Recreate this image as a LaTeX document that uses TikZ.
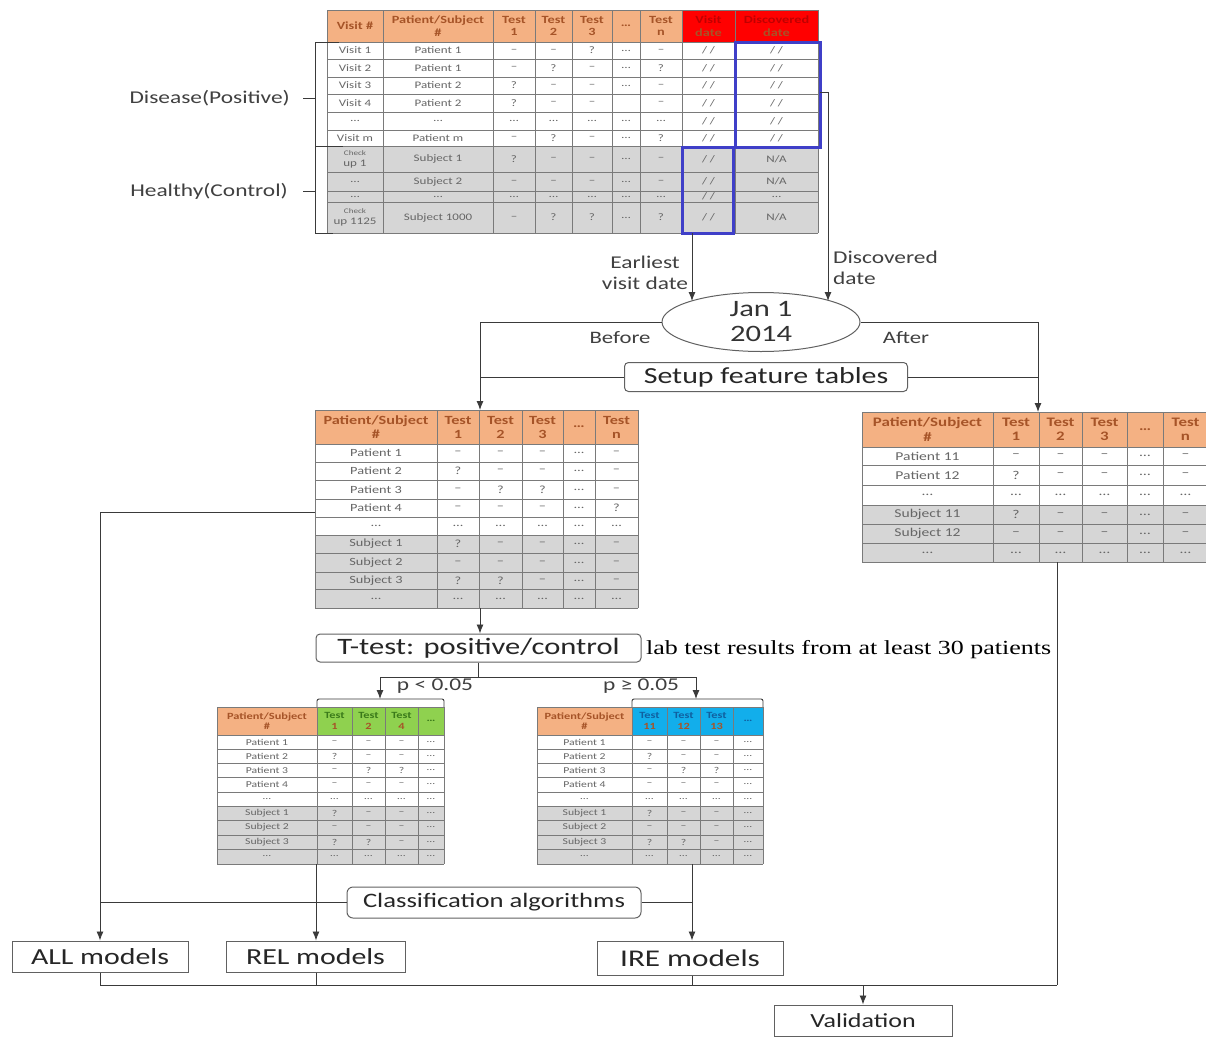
\documentclass[tikz,border=0pt]{standalone}
\usepackage{fontspec}
\setmainfont{Carlito}[FakeStretch=1.3]
\newfontfamily\serifnote{Liberation Serif}[FakeStretch=1.3]
\usetikzlibrary{arrows.meta,shapes.geometric}

\definecolor{hdr}{HTML}{F4B183}
\definecolor{hdrtxt}{HTML}{A65428}
\definecolor{redh}{HTML}{FF0000}
\definecolor{redtxt}{HTML}{C00000}
\definecolor{grnh}{HTML}{8FD14F}
\definecolor{grntxt}{HTML}{3A7A1A}
\definecolor{bluh}{HTML}{12AEEB}
\definecolor{blutxt}{HTML}{1060A0}
\definecolor{rowg}{HTML}{D6D6D6}
\definecolor{celltxt}{HTML}{666666}
\definecolor{gridc}{HTML}{7A7A7A}
\definecolor{bluebox}{HTML}{3F3FC8}
\definecolor{linec}{HTML}{3A3A3A}
\definecolor{lbltxt}{HTML}{404040}

\newcommand\hR{\color{redtxt}}
\newcommand\hG{\color{grntxt}}
\newcommand\hB{\color{blutxt}}

\newcommand\mktable[8]{%
  \def\xs{{#2}}\def\ys{{#3}}%
  \pgfmathsetmacro\xfirst{\xs[0]}%
  \pgfmathsetmacro\xlast{\xs[dim(\xs)-1]}%
  \pgfmathsetmacro\yfirst{\ys[0]}%
  \pgfmathsetmacro\ylast{\ys[dim(\ys)-1]}%
  \pgfmathsetmacro\yhead{\ys[1]}%
  \foreach \f [count=\ci from 0] in {#4} {%
    \pgfmathsetmacro\xa{\xs[\ci]}\pgfmathsetmacro\xb{\xs[\ci+1]}%
    \fill[fill=\f] (\xa,\yfirst) rectangle (\xb,\yhead);}%
  \foreach \f [count=\ri from 1] in {#5} {%
    \pgfmathsetmacro\ya{\ys[\ri]}\pgfmathsetmacro\yb{\ys[\ri+1]}%
    \fill[fill=\f] (\xfirst,\ya) rectangle (\xlast,\yb);}%
  \foreach \x in {#2} {\draw[gridline] (\x,\yfirst) -- (\x,\ylast);}%
  \foreach \y in {#3} {\draw[gridline] (\xfirst,\y) -- (\xlast,\y);}%
  \foreach \cell [count=\ci from 0] in {#6} {%
    \pgfmathsetmacro\xa{\xs[\ci]}\pgfmathsetmacro\xb{\xs[\ci+1]}%
    \node[#8h] (#1-0-\ci) at ({(\xa+\xb)/2},{(\yfirst+\yhead)/2}) {\cell};}%
  \foreach \row [count=\ri from 1] in {#7} {%
    \pgfmathsetmacro\ya{\ys[\ri]}\pgfmathsetmacro\yb{\ys[\ri+1]}%
    \foreach \cell [count=\ci from 0] in \row {%
      \pgfmathsetmacro\xa{\xs[\ci]}\pgfmathsetmacro\xb{\xs[\ci+1]}%
      \node[#8] (#1-\ri-\ci) at ({(\xa+\xb)/2},{(\ya+\yb)/2}) {\cell};}}%
}

\tikzset{
  gridline/.style={draw=gridc, line width=0.7pt},
  topc/.style={inner sep=0, text=celltxt, font=\fontsize{10}{11}\selectfont, align=center},
  topch/.style={inner sep=0, text=hdrtxt, font=\bfseries\fontsize{11}{12.5}\selectfont, align=center},
  midc/.style={inner sep=0, text=celltxt, font=\fontsize{11}{12}\selectfont, align=center},
  midch/.style={inner sep=0, text=hdrtxt, font=\bfseries\fontsize{12.5}{14}\selectfont, align=center},
  rgtc/.style={inner sep=0, text=celltxt, font=\fontsize{12}{13}\selectfont, align=center},
  rgtch/.style={inner sep=0, text=hdrtxt, font=\bfseries\fontsize{13}{14.5}\selectfont, align=center},
  smlc/.style={inner sep=0, text=celltxt, font=\fontsize{9}{10}\selectfont, align=center},
  smlch/.style={inner sep=0, text=hdrtxt, font=\bfseries\fontsize{9.5}{10.5}\selectfont, align=center},
  conn/.style={draw=linec, line width=0.9pt},
  arr/.style={conn, -{Latex[length=9pt,width=7pt]}},
  box/.style={draw=linec!80, line width=1pt, fill=white, text=black!85, inner sep=0},
  lbl/.style={text=lbltxt, inner sep=1pt, font=\fontsize{18}{21}\selectfont},
}

\begin{document}
\begin{tikzpicture}[x=1pt,y=-1pt]
\useasboundingbox[fill=white] (0,0) rectangle (1206,1036);

% ---------- top table ----------
\mktable{top}{327,383,493,535,572,612,640,682,735,818}{10,42,59,77,94,112,130,146,172,191,202,233}
 {hdr,hdr,hdr,hdr,hdr,hdr,hdr,redh,redh}
 {white,white,white,white,white,white,rowg,rowg,rowg,rowg}
 {Visit \#,Patient/Subject\\\#,Test\\1,Test\\2,Test\\3,\dots,Test\\n,\hR Visit\\date,\hR Discovered\\date}
 {{Visit 1,Patient 1,--,--,?,\dots,--,/ /,/ /},
  {Visit 2,Patient 1,--,?,--,\dots,?,/ /,/ /},
  {Visit 3,Patient 2,?,--,--,\dots,--,/ /,/ /},
  {Visit 4,Patient 2,?,--,--,{},--,/ /,/ /},
  {\dots,\dots,\dots,\dots,\dots,\dots,\dots,/ /,/ /},
  {Visit m,Patient m,--,?,--,\dots,?,/ /,/ /},
  {\fontsize{7}{8}\selectfont Check\\up 1,Subject 1,?,--,--,\dots,--,/ /,N/A},
  {\dots,Subject 2,--,--,--,\dots,--,/ /,N/A},
  {\dots,\dots,\dots,\dots,\dots,\dots,\dots,/ /,\dots},
  {\fontsize{7}{8}\selectfont Check\\up 1125,Subject 1000,--,?,?,\dots,?,/ /,N/A}}
 {topc}
\draw[bluebox, line width=3pt] (735,42) rectangle (820,147);
\draw[bluebox, line width=3pt] (682,147) rectangle (733,233);

% brackets on the left
\coordinate (brk) at (315,0);
\node[lbl, anchor=east] (dis) at (291,98) {Disease(Positive)};
\node[lbl, anchor=east] (hea) at (289,191) {Healthy(Control)};
\draw[conn] (top-1-0.west |- 0,42) -- (315,42) -- (315,233) -- (top-10-0.west |- 0,233);
\draw[conn] (315,146) -- (top-7-0.west |- 0,146);
\draw[conn] ([xshift=12pt]dis.east) -- (dis.east -| brk);
\draw[conn] ([xshift=14pt]hea.east) -- (hea.east -| brk);

% ---------- date split ----------
\node[ellipse, draw=linec!80, line width=1pt, minimum width=198pt, minimum height=59pt, inner sep=0,
      align=center, text=black!80, font=\fontsize{23.5}{25}\selectfont] (jan) at (761,322) {Jan 1\\2014};
\coordinate (vdate) at (692,233);
\coordinate (jL) at (692,301);
\coordinate (ddate) at (820,92);
\coordinate (dcorner) at (828,92);
\coordinate (jR) at (828,301);
\draw[arr] (vdate) -- (jL);
\draw[conn] (ddate) -- (dcorner);
\draw[arr] (dcorner) -- (jR);
\node[lbl, align=center] (earl) at (645,273) {Earliest\\visit date};
\node[lbl, align=left, anchor=west] (disc) at (832,268) {Discovered\\date};
\node[lbl, font=\fontsize{17.5}{20}\selectfont] (bef) at (620,338) {Before};
\node[lbl, font=\fontsize{17.5}{20}\selectfont] (aft) at (906,338) {After};

\coordinate (midtop) at (480,410);
\coordinate (rgttop) at (1038,412);
\draw[arr] (jan.west) -| (midtop);
\draw[arr] (jan.east) -| (rgttop);
\node[box, rounded corners=4pt, minimum width=283pt, minimum height=29pt,
      font=\fontsize{23}{25}\selectfont] (setup) at (766,377) {Setup feature tables};
\draw[conn] (setup.west) -- (setup.west -| midtop);
\draw[conn] (setup.east) -- (setup.east -| rgttop);

% ---------- middle table ----------
\mktable{mid}{315,437,479,522,563,595,638}{410,444,462,480,499,517,535,553,572,589,608}
 {hdr,hdr,hdr,hdr,hdr,hdr}
 {white,white,white,white,white,rowg,rowg,rowg,rowg}
 {Patient/Subject\\\#,Test\\1,Test\\2,Test\\3,\dots,Test\\n}
 {{Patient 1,--,--,--,\dots,--},
  {Patient 2,?,--,--,\dots,--},
  {Patient 3,--,?,?,\dots,--},
  {Patient 4,--,--,--,\dots,?},
  {\dots,\dots,\dots,\dots,\dots,\dots},
  {Subject 1,?,--,--,\dots,--},
  {Subject 2,--,--,--,\dots,--},
  {Subject 3,?,?,--,\dots,--},
  {\dots,\dots,\dots,\dots,\dots,\dots}}
 {midc}

% ---------- right table ----------
\mktable{rgt}{862,993,1039,1082,1127,1163,1208}{412,447,465,485,505,524,543,562}
 {hdr,hdr,hdr,hdr,hdr,hdr}
 {white,white,white,rowg,rowg,rowg}
 {Patient/Subject\\\#,Test\\1,Test\\2,Test\\3,\dots,Test\\n}
 {{Patient 11,--,--,--,\dots,--},
  {Patient 12,?,--,--,\dots,--},
  {\dots,\dots,\dots,\dots,\dots,\dots},
  {Subject 11,?,--,--,\dots,--},
  {Subject 12,--,--,--,\dots,--},
  {\dots,\dots,\dots,\dots,\dots,\dots}}
 {rgtc}

% ---------- t-test ----------
\coordinate (midbot) at (480,608);
\node[box, rounded corners=4pt, minimum width=325pt, minimum height=28pt,
      font=\fontsize{23.5}{26}\selectfont] (ttest) at (478.5,648) {T-test: positive/control};
\draw[arr] (midbot) -- (ttest.north -| midbot);
\node[anchor=west, inner sep=0, font=\serifnote\fontsize{20}{23}\selectfont] (note) at (646,650)
      {lab test results from at least 30 patients};
\coordinate (split) at (478.5,677);
\coordinate (relbr) at (380,699);
\coordinate (irebr) at (696,699);
\draw[conn] (ttest.south) -- (split);
\draw[conn] (split -| relbr) -- (split -| irebr);
\draw[arr] (split -| relbr) -- (relbr);
\draw[arr] (split -| irebr) -- (irebr);
\node[lbl, font=\fontsize{18}{21}\selectfont] (plt) at (435,686) {p < 0.05};
\node[lbl, font=\fontsize{18}{21}\selectfont] (pge) at (641,686) {p ≥ 0.05};
\draw[conn, rounded corners=2pt] (317,707) -- (317,699) -- (444,699) -- (444,707);
\draw[conn, rounded corners=2pt] (632,707) -- (632,699) -- (763,699) -- (763,707);

% ---------- REL / IRE tables ----------
\mktable{rel}{217,317,352,385,418,444}{707,735,749,763,777,792,806,820,835,849,864}
 {hdr,grnh,grnh,grnh,grnh}
 {white,white,white,white,white,rowg,rowg,rowg,rowg}
 {Patient/Subject\\\#,\hG Test\\1,\hG Test\\2,\hG Test\\4,\hG\dots}
 {{Patient 1,--,--,--,\dots},
  {Patient 2,?,--,--,\dots},
  {Patient 3,--,?,?,\dots},
  {Patient 4,--,--,--,\dots},
  {\dots,\dots,\dots,\dots,\dots},
  {Subject 1,?,--,--,\dots},
  {Subject 2,--,--,--,\dots},
  {Subject 3,?,?,--,\dots},
  {\dots,\dots,\dots,\dots,\dots}}
 {smlc}
\mktable{ire}{537,632,667,700,733,763}{707,735,749,763,777,792,806,820,835,849,864}
 {hdr,bluh,bluh,bluh,bluh}
 {white,white,white,white,white,rowg,rowg,rowg,rowg}
 {Patient/Subject\\\#,\hB Test\\11,\hB Test\\12,\hB Test\\13,\hB\dots}
 {{Patient 1,--,--,--,\dots},
  {Patient 2,?,--,--,\dots},
  {Patient 3,--,?,?,\dots},
  {Patient 4,--,--,--,\dots},
  {\dots,\dots,\dots,\dots,\dots},
  {Subject 1,?,--,--,\dots},
  {Subject 2,--,--,--,\dots},
  {Subject 3,?,?,--,\dots},
  {\dots,\dots,\dots,\dots,\dots}}
 {smlc}

% ---------- models ----------
\node[box, rounded corners=6pt, minimum width=294pt, minimum height=31pt,
      font=\fontsize{20.5}{23}\selectfont] (classif) at (494,902.5) {Classification algorithms};
\node[box, minimum width=176pt, minimum height=31pt, font=\fontsize{23}{25}\selectfont] (all) at (100,956.5) {ALL models};
\node[box, minimum width=179pt, minimum height=31pt, font=\fontsize{23}{25}\selectfont] (rel) at (315.5,956.5) {REL models};
\node[box, minimum width=186pt, minimum height=34pt, font=\fontsize{24}{26}\selectfont] (ire) at (690,958) {IRE models};
\node[box, minimum width=178pt, minimum height=31pt, font=\fontsize{20}{22}\selectfont] (valid) at (863,1020.5) {Validation};

\coordinate (midleft) at (315,512);
\coordinate (relbot) at (316,864);
\coordinate (irebot) at (692,864);
\coordinate (rgtbot) at (1057,562);
\coordinate (merge) at (1057,985);
\draw[arr] (midleft) -| (all.north);
\draw[arr] (relbot) -- (rel.north -| relbot);
\draw[arr] (irebot) -- (ire.north -| irebot);
\draw[conn] (classif.west) -- (classif.west -| all.north);
\draw[conn] (classif.east) -- (classif.east -| irebot);
\draw[conn] (all.south) -- (all.south |- merge) -- (merge);
\draw[conn] (rel.south -| relbot) -- (relbot |- merge);
\draw[conn] (ire.south -| irebot) -- (irebot |- merge);
\draw[conn] (rgtbot) -- (merge);
\draw[arr] (valid.north |- merge) -- (valid.north);
\end{tikzpicture}
\end{document}
